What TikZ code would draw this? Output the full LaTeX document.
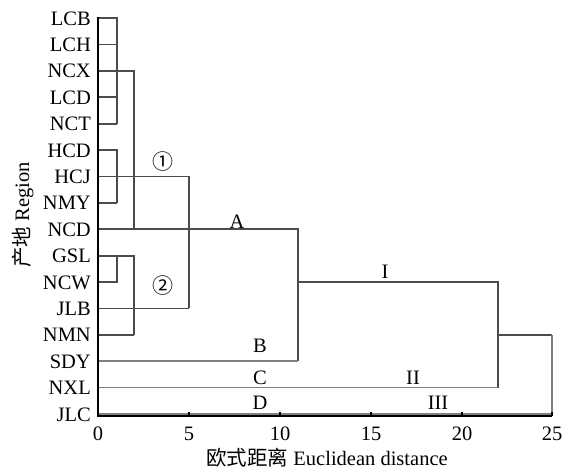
\documentclass[tikz,border=0pt]{standalone}
\usepackage{fontspec}
\setmainfont{Liberation Serif}
\newfontfamily\cjk{Noto Sans CJK SC}
\begin{document}
\begin{tikzpicture}[x=1pt,y=-1pt,
  every node/.style={font=\fontsize{20.5}{20.5}\selectfont, inner sep=0pt},
  dg/.style={draw=black!70, line width=1.8pt},
  lt/.style={draw=black!50, line width=1.7pt},
  ax/.style={draw=black, line width=1.8pt},
  rowlab/.style={anchor=base east},
  cl/.style={anchor=center}]
\useasboundingbox (0,0) rectangle (575,474);
% rows
\foreach \n [count=\i from 0] in {LCB,LCH,NCX,LCD,NCT,HCD,HCJ,NMY,NCD,GSL,NCW,JLB,NMN,SDY,NXL,JLC}{
  \coordinate (\n) at (98,18+26.4*\i);
  \node[rowlab] (lab\n) at (91,25+26.4*\i) {\n};
}
% distance marks on the axis
\coordinate (d0) at (98,416);
\coordinate (d1) at (117,416);
\coordinate (d2) at (134,416);
\coordinate (d5) at (189,416);
\coordinate (d10) at (280,416);
\coordinate (d11) at (298,416);
\coordinate (d15) at (371,416);
\coordinate (d20) at (462,416);
\coordinate (d22) at (498,416);
\coordinate (d25) at (552,416);
\coordinate (top) at (98,17);
% dendrogram
\draw[dg] (LCB) -- (LCB -| d1) -- (NCT -| d1);
\draw[dg] (LCH) -- (LCH -| d1);
\draw[dg] (LCD) -- (LCD -| d1);
\draw[dg] (NCT) -- (NCT -| d1);
\draw[dg] (NCX) -- (NCX -| d2) -- (NCD -| d2);
\draw[dg] (HCD) -- (HCD -| d1) -- (NMY -| d1);
\draw[dg] (NMY) -- (NMY -| d1);
\draw[dg] (HCJ) -- (HCJ -| d5) -- (JLB -| d5);
\draw[dg] (NCD) -- (NCD -| d11) -- (SDY -| d11);
\draw[dg] (GSL) -- (GSL -| d2) -- (NMN -| d2);
\draw[dg] (GSL -| d1) -- (NCW -| d1) -- (NCW);
\draw[dg] (JLB) -- (JLB -| d5);
\draw[dg] (NMN) -- (NMN -| d2);
\draw[dg] (NCW -| d11) -- (NCW -| d22) -- (NXL -| d22);
\draw[dg] (NMN -| d22) -- (NMN -| d25);
\draw[lt, line width=1.1pt] (NMN -| d25) -- (d25);
\draw[lt] (SDY) -- (SDY -| d11);
\draw[lt] (NXL) -- (NXL -| d22);
\draw[lt] (JLC) -- (JLC -| d25);
% axes
\draw[ax] (top) -- (d0) -- (d25);
\foreach \t/\v in {d0/0,d5/5,d10/10,d15/15,d20/20,d25/25}{
  \draw[ax, line width=1.1pt] (\t) -- ++(0,-4.5);
  \node[anchor=base] (tick\v) at ([yshift=-24pt]\t) {\v};
}
% cluster labels
\node[cl] (c1) at (163,162) {\cjk\fontsize{21}{21}\selectfont ①};
\node[cl] (c2) at (163,286) {\cjk\fontsize{21}{21}\selectfont ②};
\node[anchor=base] (lA) at (237,228) {A};
\node[anchor=base] (lB) at (260,352) {B};
\node[anchor=base] (lC) at (260,384) {C};
\node[anchor=base] (lD) at (260,409) {D};
\node[anchor=base] (lI) at (385,278) {I};
\node[anchor=base] (lII) at (413,384) {II};
\node[anchor=base] (lIII) at (438,409) {III};
% axis titles
\node[anchor=base] (xt) at (327,465) {{\cjk 欧式距离} Euclidean distance};
\node[anchor=base, rotate=90] (yt) at (29,215) {{\cjk 产地} Region};
\end{tikzpicture}
\end{document}
